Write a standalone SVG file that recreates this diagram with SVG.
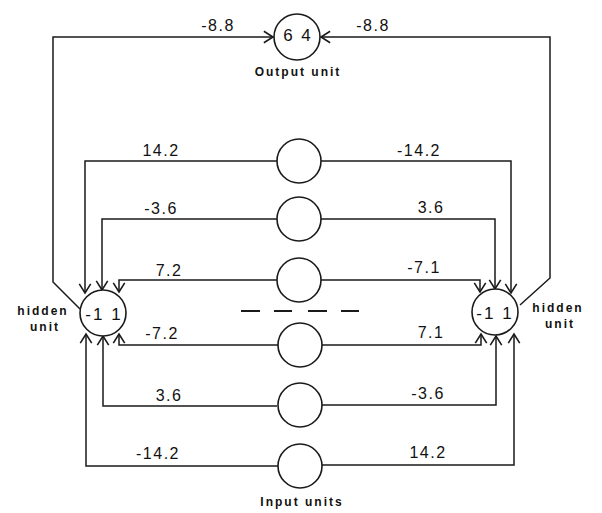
<svg xmlns="http://www.w3.org/2000/svg" width="602" height="513" viewBox="0 0 602 513">
<defs>
<style>
.ln{fill:none;stroke:#1a1a1a;stroke-width:1.5;marker-end:url(#ah)}
.nd{fill:#fff;stroke:#1a1a1a;stroke-width:1.6}
.w{font-family:"Liberation Sans",Arial,sans-serif;font-size:16px;letter-spacing:1.5px;fill:#111;text-anchor:middle}
.v{font-family:"Liberation Sans",Arial,sans-serif;font-size:17px;fill:#111;text-anchor:middle;letter-spacing:2px}
.lb{font-family:"Liberation Sans",Arial,sans-serif;font-size:12px;font-weight:bold;letter-spacing:2px;fill:#111;text-anchor:middle}
.dash{stroke:#1a1a1a;stroke-width:2}
</style>
<marker id="ah" markerUnits="userSpaceOnUse" markerWidth="16" markerHeight="16" viewBox="-10 -7 12 14" refX="0" refY="0" orient="auto">
<path d="M-8,-5 L0,0 L-8,5" fill="none" stroke="#1a1a1a" stroke-width="1.4"/>
</marker>
</defs>
<rect width="602" height="513" fill="#fff"/>
<g id="connectors">
<polyline class="ln" points="80,309 53,282 53,37 273,37"/>
<polyline class="ln" points="520,305 550,278 550,37 321,37"/>
<polyline class="ln" points="277,161 85,161 85,293"/>
<polyline class="ln" points="277,219 102,219 102,290"/>
<polyline class="ln" points="277,280 119,280 119,292"/>
<polyline class="ln" points="278,345 119,345 119,334"/>
<polyline class="ln" points="277,406 103,406 103,336"/>
<polyline class="ln" points="278,466 86,466 86,334"/>
<polyline class="ln" points="321,161 511,161 511,293"/>
<polyline class="ln" points="321,219 495,219 495,289"/>
<polyline class="ln" points="321,280 480,280 480,292"/>
<polyline class="ln" points="321,345 481,345 481,334"/>
<polyline class="ln" points="321,405 496,405 496,336"/>
<polyline class="ln" points="322,465 514,465 514,334"/>
<text class="w" x="218" y="31">-8.8</text>
<text class="w" x="373" y="31">-8.8</text>
<text class="w" x="161" y="156">14.2</text>
<text class="w" x="161" y="214">-3.6</text>
<text class="w" x="169" y="276">7.2</text>
<text class="w" x="162" y="339">-7.2</text>
<text class="w" x="169" y="401">3.6</text>
<text class="w" x="158" y="459">-14.2</text>
<text class="w" x="419" y="156">-14.2</text>
<text class="w" x="431" y="213">3.6</text>
<text class="w" x="424" y="273">-7.1</text>
<text class="w" x="431" y="338">7.1</text>
<text class="w" x="428" y="399">-3.6</text>
<text class="w" x="428" y="458">14.2</text>
</g>
<g id="output">
<circle class="nd" cx="297" cy="37" r="23"/>
<text class="v" x="298" y="41">6 4</text>
<text class="lb" x="298" y="76">Output unit</text>
</g>
<g id="hidden-left">
<circle class="nd" cx="103" cy="313" r="23"/>
<text class="v" x="104" y="320">-1 1</text>
<text class="lb" x="43" y="315">hidden</text>
<text class="lb" x="45" y="331">unit</text>
</g>
<g id="hidden-right">
<circle class="nd" cx="495" cy="312" r="23"/>
<text class="v" x="495" y="319">-1 1</text>
<text class="lb" x="558" y="312">hidden</text>
<text class="lb" x="560" y="328">unit</text>
</g>
<g id="input-1"><circle class="nd" cx="299" cy="161" r="22"/></g>
<g id="input-2"><circle class="nd" cx="299" cy="219" r="22"/></g>
<g id="input-3"><circle class="nd" cx="299" cy="280" r="22"/></g>
<g id="input-4"><circle class="nd" cx="300" cy="345" r="22"/></g>
<g id="input-5"><circle class="nd" cx="300" cy="405" r="22"/></g>
<g id="input-6"><circle class="nd" cx="300" cy="466" r="22"/></g>
<g id="ellipsis">
<line class="dash" x1="241" y1="311" x2="260" y2="311"/>
<line class="dash" x1="274" y1="311" x2="292" y2="311"/>
<line class="dash" x1="308" y1="311" x2="327" y2="311"/>
<line class="dash" x1="341" y1="311" x2="359" y2="311"/>
</g>
<g id="input-label">
<text class="lb" x="302" y="506">Input units</text>
</g>
</svg>
